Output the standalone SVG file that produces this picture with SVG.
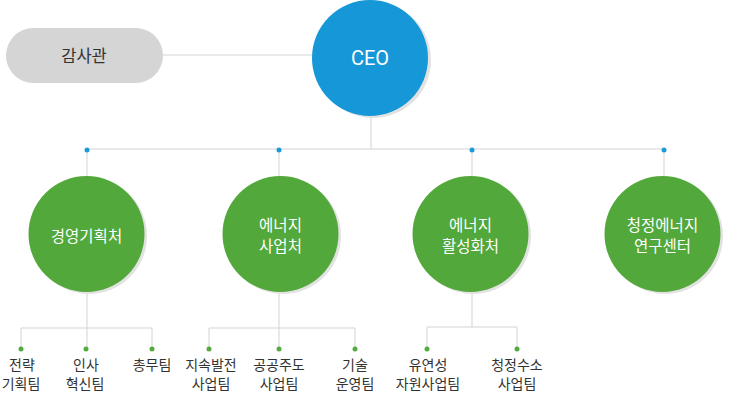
<svg xmlns="http://www.w3.org/2000/svg" width="740" height="400" viewBox="0 0 740 400">
<style>
.ln{stroke:#d3d3d3;stroke-width:1;fill:none}
.bd{fill:#1a9ad9}
.gd{fill:#55aa3d}
.sh{fill:#e2e2e2}
.ceo{fill:#1597d8}
.dept{fill:#52a83a}
.wt{fill:#ffffff;font-family:"Noto Sans CJK KR","Noto Sans",sans-serif;font-size:15.5px;text-anchor:middle}
.tm{fill:#333333;font-family:"Noto Sans CJK KR","Noto Sans",sans-serif;font-size:14px;text-anchor:middle}
</style>
<rect width="740" height="400" fill="#ffffff"/>
<g id="connectors">
<line class="ln" x1="163" y1="55" x2="315" y2="55"/>
<line class="ln" x1="371" y1="115" x2="371" y2="149"/>
<line class="ln" x1="87" y1="149" x2="664" y2="149"/>
<line class="ln" x1="87" y1="149" x2="87" y2="178"/>
<line class="ln" x1="279" y1="149" x2="279" y2="178"/>
<line class="ln" x1="472" y1="149" x2="472" y2="178"/>
<line class="ln" x1="664" y1="149" x2="664" y2="178"/>
<line class="ln" x1="87" y1="290" x2="87" y2="349"/>
<polyline class="ln" points="21,349 21,328 152,328 152,349"/>
<line class="ln" x1="279" y1="290" x2="279" y2="349"/>
<polyline class="ln" points="209,349 209,328 355,328 355,349"/>
<line class="ln" x1="472" y1="290" x2="472" y2="327"/>
<polyline class="ln" points="427,349 427,327 517,327 517,349"/>
<circle class="bd" cx="87" cy="150" r="2.5"/>
<circle class="bd" cx="279" cy="150" r="2.5"/>
<circle class="bd" cx="472" cy="150" r="2.5"/>
<circle class="bd" cx="664" cy="150" r="2.5"/>
<circle class="gd" cx="21" cy="349" r="2.5"/>
<circle class="gd" cx="86" cy="349" r="2.5"/>
<circle class="gd" cx="152" cy="349" r="2.5"/>
<circle class="gd" cx="209" cy="349" r="2.5"/>
<circle class="gd" cx="279" cy="349" r="2.5"/>
<circle class="gd" cx="355" cy="349" r="2.5"/>
<circle class="gd" cx="427" cy="349" r="2.5"/>
<circle class="gd" cx="517" cy="349" r="2.5"/>
</g>
<g id="audit">
<rect x="6" y="28" width="157" height="55" rx="27.5" fill="#d5d5d5"/>
<text x="84" y="62" fill="#333333" font-family="'Noto Sans CJK KR',sans-serif" font-size="16.5" text-anchor="middle">감사관</text>
</g>
<g id="ceo">
<circle class="sh" cx="373" cy="60" r="58"/>
<circle class="ceo" cx="370" cy="58" r="58"/>
<text x="370" y="65" fill="#ffffff" font-family="Roboto,sans-serif" font-size="20" text-anchor="middle">CEO</text>
</g>
<g id="dept1">
<circle class="sh" cx="89" cy="236" r="58"/>
<circle class="dept" cx="86.5" cy="234" r="58"/>
<text class="wt" x="86.5" y="242">경영기획처</text>
</g>
<g id="dept2">
<circle class="sh" cx="283" cy="236" r="58"/>
<circle class="dept" cx="280.5" cy="234" r="58"/>
<text class="wt" x="280.5" y="231">에너지</text>
<text class="wt" x="280.5" y="252">사업처</text>
</g>
<g id="dept3">
<circle class="sh" cx="473" cy="236" r="58"/>
<circle class="dept" cx="470.5" cy="234" r="58"/>
<text class="wt" x="470.5" y="231">에너지</text>
<text class="wt" x="470.5" y="252">활성화처</text>
</g>
<g id="dept4">
<circle class="sh" cx="665" cy="236" r="58"/>
<circle class="dept" cx="662.5" cy="234" r="58"/>
<text class="wt" x="662.5" y="231">청정에너지</text>
<text class="wt" x="662.5" y="252">연구센터</text>
</g>
<g id="team1"><text class="tm" x="22" y="370">전략</text><text class="tm" x="21" y="389">기획팀</text></g>
<g id="team2"><text class="tm" x="86" y="370">인사</text><text class="tm" x="85" y="389">혁신팀</text></g>
<g id="team3"><text class="tm" x="152" y="370">총무팀</text></g>
<g id="team4"><text class="tm" x="211" y="370">지속발전</text><text class="tm" x="211" y="389">사업팀</text></g>
<g id="team5"><text class="tm" x="279" y="370">공공주도</text><text class="tm" x="279" y="389">사업팀</text></g>
<g id="team6"><text class="tm" x="355" y="370">기술</text><text class="tm" x="355" y="389">운영팀</text></g>
<g id="team7"><text class="tm" x="428" y="370">유연성</text><text class="tm" x="428" y="389">자원사업팀</text></g>
<g id="team8"><text class="tm" x="517" y="370">청정수소</text><text class="tm" x="517" y="389">사업팀</text></g>
</svg>
